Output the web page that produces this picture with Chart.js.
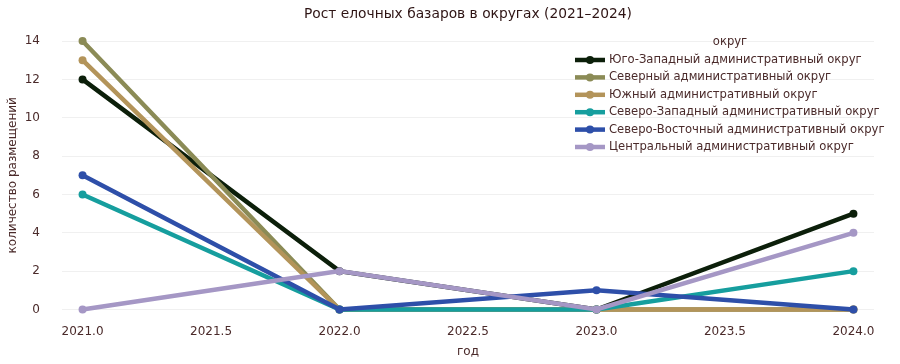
<!DOCTYPE html>
<html>
<head>
<meta charset="utf-8">
<script src="https://cdn.jsdelivr.net/npm/chart.js@4/dist/chart.umd.min.js"></script>
<style>
  html, body { margin: 0; padding: 0; background: #fff; }
  #wrap { width: 900px; height: 364px; position: relative; }
</style>
</head>
<body>
<div id="wrap"><canvas id="chart"></canvas></div>
<script>
// данные
const years = [2021, 2022, 2023, 2024];
const districts = [
    'Юго-Западный административный округ',
    'Северный административный округ',
    'Южный административный округ',
    'Северо-Западный административный округ',
    'Северо-Восточный административный округ',
    'Центральный административный округ'
];
const swValues = [12, 2, 0, 5];
const northValues = [14, 0, 0, 0];
const southValues = [13, 0, 0, 0];
const nwValues = [6, 0, 0, 2];
const neValues = [7, 0, 1, 0];
const centralValues = [0, 2, 0, 4];
const xTicks = [2021, 2021.5, 2022, 2022.5, 2023, 2023.5, 2024];
const yTicks = [0, 2, 4, 6, 8, 10, 12, 14];

const colors = ['#0c1f0a', '#8b8b56', '#b3945a', '#169e9e', '#2e4fa9', '#a597c5'];
const seriesValues = [swValues, northValues, southValues, nwValues, neValues, centralValues];

const textColor = '#4a2a2a';
const fontFamily = '"DejaVu Sans", sans-serif';

const datasets = districts.map((name, i) => ({
    label: name,
    data: years.map((y, k) => ({x: y, y: seriesValues[i][k]})),
    borderColor: colors[i],
    backgroundColor: colors[i],
    borderWidth: 4.5,
    pointRadius: 4,
    pointHoverRadius: 4,
    pointBorderWidth: 0,
    tension: 0,
    order: districts.length - i
}));

// легенда справа сверху, как в оригинале
const legendPlugin = {
    id: 'sideLegend',
    afterDraw(chart) {
        const ctx = chart.ctx;
        ctx.save();
        ctx.font = '11.6px ' + fontFamily;
        ctx.fillStyle = textColor;
        ctx.textBaseline = 'middle';
        ctx.textAlign = 'center';
        ctx.fillText('округ', 730, 42);
        ctx.textAlign = 'left';
        districts.forEach((name, i) => {
            const y = 60 + i * 17.4;
            ctx.strokeStyle = colors[i];
            ctx.lineWidth = 4.5;
            ctx.beginPath();
            ctx.moveTo(575, y);
            ctx.lineTo(605, y);
            ctx.stroke();
            ctx.fillStyle = colors[i];
            ctx.beginPath();
            ctx.arc(590, y, 4, 0, Math.PI * 2);
            ctx.fill();
            ctx.fillStyle = textColor;
            ctx.fillText(name, 609, y);
        });
        ctx.restore();
    }
};

new Chart(document.getElementById('chart'), {
    type: 'line',
    data: {datasets: datasets},
    options: {
        responsive: true,
        maintainAspectRatio: false,
        animation: false,
        layout: {padding: {left: 0, right: 26, top: 0, bottom: 0}},
        plugins: {
            legend: {display: false},
            tooltip: {enabled: false},
            title: {
                display: true,
                fullSize: false,
                text: 'Рост елочных базаров в округах (2021–2024)',
                color: '#2e1414',
                font: {family: fontFamily, size: 13.8, weight: 'normal'},
                padding: {top: 6, bottom: 7}
            }
        },
        scales: {
            x: {
                type: 'linear',
                min: 2020.92,
                max: 2024.08,
                afterBuildTicks: s => { s.ticks = xTicks.map(v => ({value: v})); },
                afterFit: s => { s.height = 43; },
                grid: {display: false, drawTicks: false},
                border: {display: false},
                ticks: {
                    color: textColor,
                    font: {family: fontFamily, size: 12},
                    padding: 4,
                    maxRotation: 0,
                    callback: v => Number(v).toFixed(1)
                },
                title: {
                    display: true,
                    text: 'год',
                    color: textColor,
                    font: {family: fontFamily, size: 12},
                    padding: {top: 0, bottom: 5}
                }
            },
            y: {
                min: -0.6,
                max: 14.6,
                afterBuildTicks: s => { s.ticks = yTicks.map(v => ({value: v})); },
                afterFit: s => { s.width = 62; },
                grid: {color: '#f0f0f0', lineWidth: 1, drawTicks: false},
                border: {display: false},
                ticks: {
                    color: textColor,
                    font: {family: fontFamily, size: 12},
                    padding: 22,
                    callback: v => String(v)
                },
                title: {
                    display: true,
                    text: 'количество размещений',
                    color: textColor,
                    font: {family: fontFamily, size: 12},
                    padding: {top: 6, bottom: 0}
                }
            }
        }
    },
    plugins: [legendPlugin]
});
</script>
</body>
</html>
